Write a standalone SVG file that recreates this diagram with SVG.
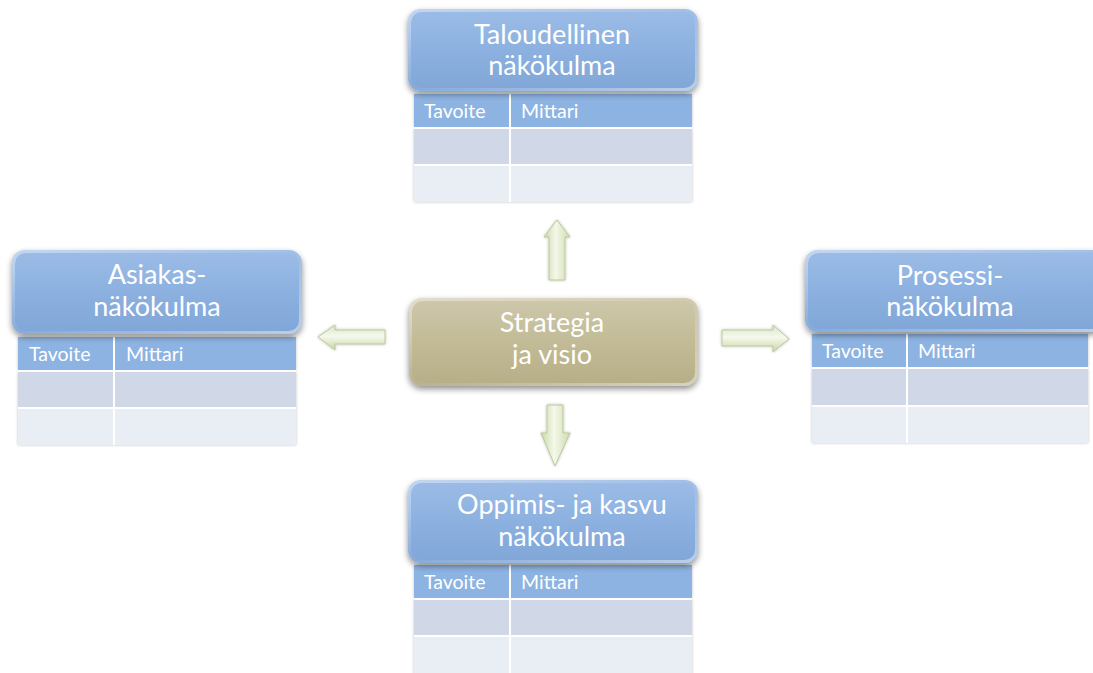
<svg xmlns="http://www.w3.org/2000/svg" width="1093" height="673" viewBox="0 0 1093 673">
  <defs>
    <linearGradient id="gBlue" x1="0" y1="0" x2="0" y2="1">
      <stop offset="0" stop-color="#9cbce6"/>
      <stop offset="0.5" stop-color="#8cb1e0"/>
      <stop offset="1" stop-color="#80a6d7"/>
    </linearGradient>
    <linearGradient id="gKhaki" x1="0" y1="0" x2="0" y2="1">
      <stop offset="0" stop-color="#cec8ac"/>
      <stop offset="0.5" stop-color="#c2bb96"/>
      <stop offset="1" stop-color="#b6ae87"/>
    </linearGradient>
    <linearGradient id="gEdge" x1="0" y1="0" x2="1" y2="1">
      <stop offset="0" stop-color="#ffffff" stop-opacity="0.4"/>
      <stop offset="0.5" stop-color="#ffffff" stop-opacity="0.05"/>
      <stop offset="1" stop-color="#ffffff" stop-opacity="0.45"/>
    </linearGradient>
    <linearGradient id="gArrowV" x1="0" y1="0" x2="1" y2="0">
      <stop offset="0" stop-color="#c9d9a6"/>
      <stop offset="0.45" stop-color="#f4f8ea"/>
      <stop offset="1" stop-color="#cfdcae"/>
    </linearGradient>
    <linearGradient id="gArrowH" x1="0" y1="0" x2="0" y2="1">
      <stop offset="0" stop-color="#dbe6c4"/>
      <stop offset="0.45" stop-color="#f6f9ee"/>
      <stop offset="1" stop-color="#c6d6a2"/>
    </linearGradient>
    <filter id="shadow" x="-10%" y="-20%" width="120%" height="150%">
      <feGaussianBlur in="SourceAlpha" stdDeviation="3"/>
      <feOffset dx="0" dy="3" result="b"/>
      <feComponentTransfer><feFuncA type="linear" slope="0.45"/></feComponentTransfer>
      <feMerge><feMergeNode/><feMergeNode in="SourceGraphic"/></feMerge>
    </filter>
    <filter id="tshadow" x="-5%" y="-5%" width="110%" height="110%">
      <feGaussianBlur in="SourceAlpha" stdDeviation="1.5"/>
      <feComponentTransfer><feFuncA type="linear" slope="0.25"/></feComponentTransfer>
      <feMerge><feMergeNode/><feMergeNode in="SourceGraphic"/></feMerge>
    </filter>
  </defs>
  <style>
    .hdr { fill: url(#gBlue); filter: url(#shadow); }
    .ctr { fill: url(#gKhaki); filter: url(#shadow); }
    .edge { fill: none; stroke: url(#gEdge); stroke-width: 3; }
    .title { font-family: Lato, "Open Sans", sans-serif; font-size: 27px; fill: #ffffff; text-anchor: middle; }
    .col { font-family: Lato, "Open Sans", sans-serif; font-size: 19.5px; fill: #ffffff; }
    .th { fill: #8db3e2; }
    .r1 { fill: #d0d8e8; }
    .r2 { fill: #e9edf4; }
    .grid { stroke: #ffffff; stroke-width: 2; fill: none; }
    .arrV { fill: url(#gArrowV); stroke: #b9c99a; stroke-width: 1; filter: url(#tshadow); }
    .arrH { fill: url(#gArrowH); stroke: #b9c99a; stroke-width: 1; filter: url(#tshadow); }
  </style>

  <rect width="1093" height="673" fill="#ffffff"/>

  <!-- Connectors: block arrows from the centre outwards -->
  <g id="connectors">
    <path class="arrV" d="M557,220 L570,237 L565,237 L565,280 L549,280 L549,237 L544,237 Z"/>
    <path class="arrV" d="M547,405 L563,405 L563,433 L570,433 L555,466 L541,433 L547,433 Z"/>
    <path class="arrH" d="M318,337 L335,325 L335,330 L385,330 L385,344 L335,344 L335,350 Z"/>
    <path class="arrH" d="M722,330 L773,330 L773,325 L789,339 L773,352 L773,346 L722,346 Z"/>
  </g>

  <!-- Centre -->
  <g id="strategy">
    <rect class="ctr" x="409" y="298" width="289" height="88" rx="13"/>
    <rect class="edge" x="410.5" y="299.5" width="286" height="85" rx="12"/>
    <text class="title" x="552" y="332">Strategia</text>
    <text class="title" x="552" y="364">ja visio</text>
  </g>

  <!-- Financial perspective -->
  <g id="financial">
    <g filter="url(#tshadow)">
      <rect class="th" x="414" y="94" width="278" height="33"/>
      <rect class="r1" x="414" y="129" width="278" height="36"/>
      <rect class="r2" x="414" y="165" width="278" height="37"/>
    </g>
    <path class="grid" d="M510,94 V202 M414,128 H692 M414,165 H692"/>
    <text class="col" x="424" y="118">Tavoite</text>
    <text class="col" x="521" y="118">Mittari</text>
    <rect class="hdr" x="408" y="9" width="290" height="82" rx="13"/>
    <rect class="edge" x="409.5" y="10.5" width="287" height="79" rx="12"/>
    <text class="title" x="552" y="44">Taloudellinen</text>
    <text class="title" x="552" y="75">näkökulma</text>
  </g>

  <!-- Customer perspective -->
  <g id="customer">
    <g filter="url(#tshadow)">
      <rect class="th" x="18" y="337" width="278" height="33"/>
      <rect class="r1" x="18" y="372" width="278" height="36"/>
      <rect class="r2" x="18" y="408" width="278" height="37"/>
    </g>
    <path class="grid" d="M114,337 V445 M18,371 H296 M18,408 H296"/>
    <text class="col" x="29" y="361">Tavoite</text>
    <text class="col" x="126" y="361">Mittari</text>
    <rect class="hdr" x="12" y="250" width="290" height="84" rx="13"/>
    <rect class="edge" x="13.5" y="251.5" width="287" height="81" rx="12"/>
    <text class="title" x="157" y="284">Asiakas-</text>
    <text class="title" x="157" y="316">näkökulma</text>
  </g>

  <!-- Process perspective -->
  <g id="process">
    <g filter="url(#tshadow)">
      <rect class="th" x="812" y="334" width="276" height="33"/>
      <rect class="r1" x="812" y="369" width="276" height="37"/>
      <rect class="r2" x="812" y="406" width="276" height="37"/>
    </g>
    <path class="grid" d="M907,334 V443 M812,368 H1088 M812,406 H1088"/>
    <text class="col" x="822" y="358">Tavoite</text>
    <text class="col" x="918" y="358">Mittari</text>
    <rect class="hdr" x="805" y="250" width="300" height="82" rx="13"/>
    <rect class="edge" x="806.5" y="251.5" width="297" height="79" rx="12"/>
    <text class="title" x="950" y="285">Prosessi-</text>
    <text class="title" x="950" y="316">näkökulma</text>
  </g>

  <!-- Learning and growth perspective -->
  <g id="learning">
    <g filter="url(#tshadow)">
      <rect class="th" x="414" y="565" width="278" height="33"/>
      <rect class="r1" x="414" y="600" width="278" height="36"/>
      <rect class="r2" x="414" y="636" width="278" height="40"/>
    </g>
    <path class="grid" d="M510,565 V673 M414,599 H692 M414,636 H692"/>
    <text class="col" x="424" y="589">Tavoite</text>
    <text class="col" x="521" y="589">Mittari</text>
    <rect class="hdr" x="408" y="480" width="290" height="83" rx="13"/>
    <rect class="edge" x="409.5" y="481.5" width="287" height="80" rx="12"/>
    <text class="title" x="562" y="514">Oppimis- ja kasvu</text>
    <text class="title" x="562" y="546">näkökulma</text>
  </g>
</svg>
